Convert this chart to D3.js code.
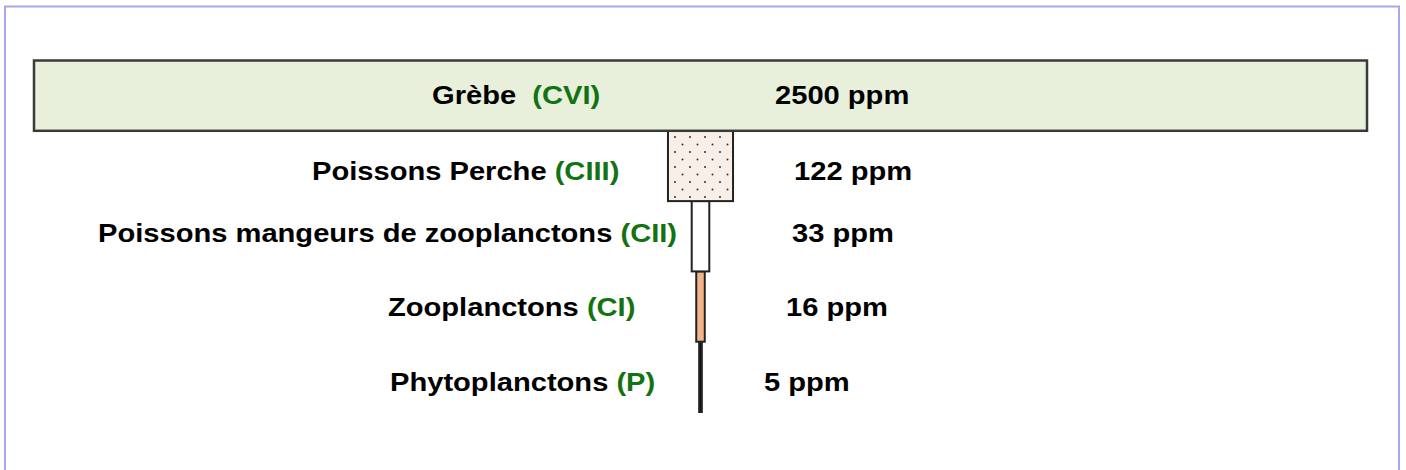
<!DOCTYPE html>
<html>
<head>
<meta charset="utf-8">
<script src="https://cdn.jsdelivr.net/npm/d3@7"></script>
<style>
  html, body { margin: 0; padding: 0; background: #ffffff; }
  svg { display: block; }
  text { font-family: "Liberation Sans", Arial, sans-serif; font-weight: bold; white-space: pre; }
</style>
</head>
<body>
<svg id="chart" width="1406" height="470"></svg>
<script>
// ---- DATA ----
const organisms = ["Grèbe", "Poissons Perche", "Poissons mangeurs de zooplanctons", "Zooplanctons", "Phytoplanctons"];
const levels = ["CVI", "CIII", "CII", "CI", "P"];
const ppm = [2500, 122, 33, 16, 5];
const valueLabels = ["2500 ppm", "122 ppm", "33 ppm", "16 ppm", "5 ppm"];

// ---- LAYOUT (annotation placement, not data) ----
const labelLeft = [432, 312, 98, 388, 390];
const valueLeft = [775, 794, 792, 786, 764];
const baselineDy = [8, 14, 6, 9.5, 14];
const labelGap = ["  ", " ", " ", " ", " "];
const fills = ["#e8f0dc", "url(#dots)", "#ffffff", "#f4b48a", "#111111"];

const W = 1406, H = 470;
const cx = 700.5;
const svg = d3.select("#chart");

// frame
svg.append("rect")
  .attr("x", 5).attr("y", 6.5).attr("width", 1394).attr("height", 500)
  .attr("fill", "none").attr("stroke", "#a8a8f0").attr("stroke-width", 2);

// dotted pattern
const defs = svg.append("defs");
const pat = defs.append("pattern").attr("id", "dots")
  .attr("patternUnits", "userSpaceOnUse").attr("width", 15).attr("height", 15)
  .attr("x", 671).attr("y", 134);
pat.append("rect").attr("width", 15).attr("height", 15).attr("fill", "#f7efe8");
pat.append("circle").attr("cx", 4).attr("cy", 3).attr("r", 1).attr("fill", "#333");
pat.append("circle").attr("cx", 11.5).attr("cy", 10.5).attr("r", 1).attr("fill", "#333");

const widthScale = d3.scaleLinear().domain([0, 2500]).range([0, 1333]);
const y = d3.scaleBand().domain(organisms).range([60.5, 412]).padding(0);

const rows = organisms.map((o, i) => ({ o, i, lvl: levels[i], v: ppm[i], vl: valueLabels[i] }));

// bars (draw bottom first so the top bar overlaps)
svg.append("g").selectAll("rect")
  .data(rows.slice().reverse())
  .join("rect")
  .attr("x", d => cx - widthScale(d.v) / 2)
  .attr("y", d => y(d.o))
  .attr("width", d => widthScale(d.v))
  .attr("height", y.bandwidth())
  .attr("fill", d => fills[d.i])
  .attr("stroke", d => d.i === 0 ? "#3a3a3a" : "#222")
  .attr("stroke-width", d => d.i === 0 ? 2.5 : 2);

const sx = 1.165;
const fs = 25;

// labels
const lab = svg.append("g").selectAll("text")
  .data(rows).join("text")
  .attr("transform", d => `translate(${labelLeft[d.i]},${y(d.o) + y.bandwidth() / 2 + baselineDy[d.i]}) scale(${sx},1)`)
  .attr("font-size", fs)
  .attr("fill", "#000");
lab.append("tspan").text(d => d.o + labelGap[d.i]);
lab.append("tspan").attr("fill", "#117311").text(d => "(" + d.lvl + ")");

// values
svg.append("g").selectAll("text")
  .data(rows).join("text")
  .attr("transform", d => `translate(${valueLeft[d.i]},${y(d.o) + y.bandwidth() / 2 + baselineDy[d.i]}) scale(${sx},1)`)
  .attr("font-size", fs)
  .attr("fill", "#000")
  .text(d => d.vl);
</script>
</body>
</html>
